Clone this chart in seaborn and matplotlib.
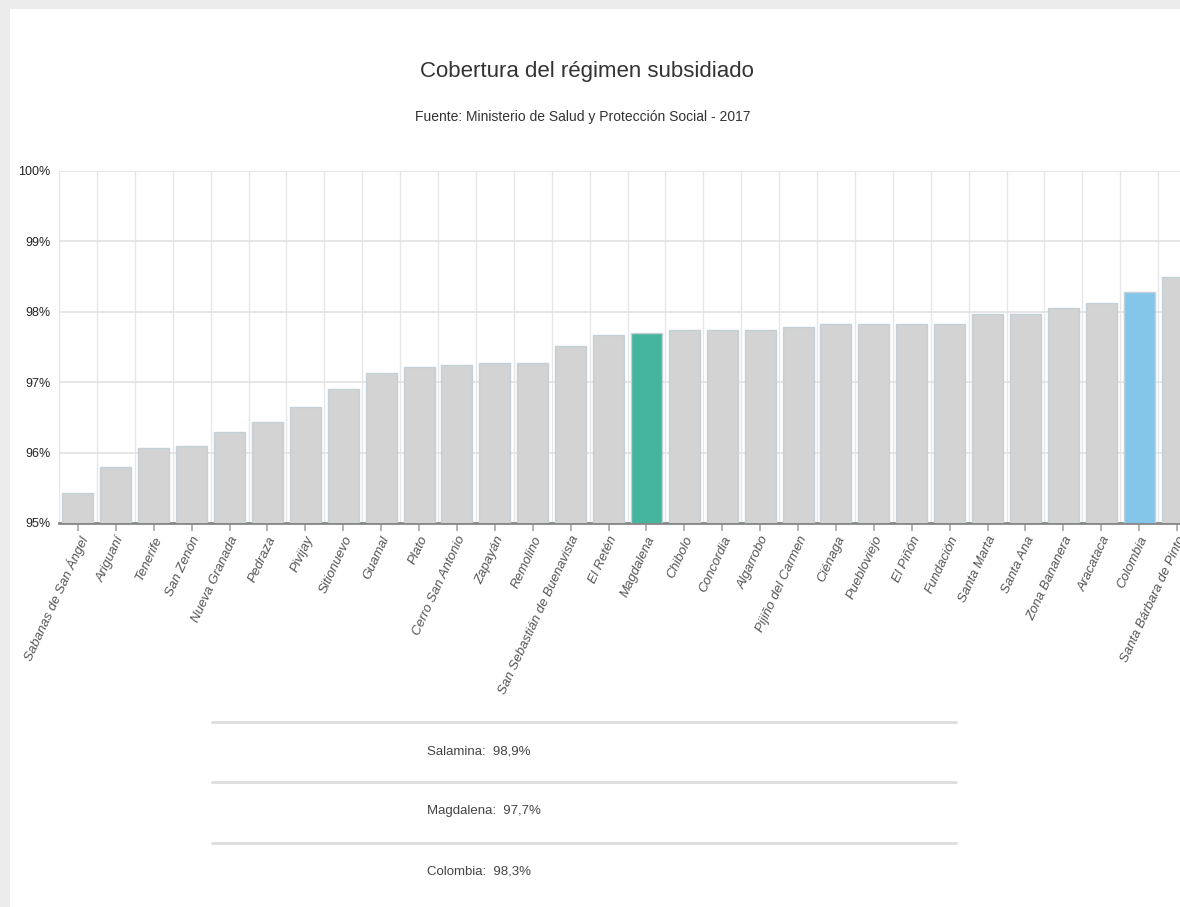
import pandas as pd
import matplotlib.pyplot as plt
import seaborn as sns
from matplotlib.patches import Rectangle
from matplotlib.lines import Line2D
from matplotlib.ticker import FixedLocator

# Data
municipios = ["Sabanas de San Ángel", "Ariguaní", "Tenerife", "San Zenón", "Nueva Granada",
              "Pedraza", "Pivijay", "Sitionuevo", "Guamal", "Plato", "Cerro San Antonio",
              "Zapayán", "Remolino", "San Sebastián de Buenavista", "El Retén", "Magdalena",
              "Chibolo", "Concordia", "Algarrobo", "Pijiño del Carmen", "Ciénaga", "Puebloviejo",
              "El Piñón", "Fundación", "Santa Marta", "Santa Ana", "Zona Bananera", "Aracataca",
              "Colombia", "Santa Bárbara de Pinto"]
cobertura = [95.43, 95.80, 96.07, 96.10, 96.29, 96.43, 96.65, 96.90, 97.13, 97.22, 97.24,
             97.27, 97.27, 97.51, 97.67, 97.70, 97.74, 97.74, 97.74, 97.78, 97.83, 97.83,
             97.83, 97.83, 97.97, 97.97, 98.05, 98.13, 98.28, 98.50]
y_ticks = [95, 96, 97, 98, 99, 100]
resumen = ["Salamina:  98,9%", "Magdalena:  97,7%", "Colombia:  98,3%"]

colores = {m: "#d3d3d3" for m in municipios}
colores["Magdalena"] = "#45b59e"
colores["Colombia"] = "#84c6ea"

df = pd.DataFrame({"municipio": municipios, "cobertura": cobertura})

sns.set_theme(style="white")
plt.rcParams['font.family'] = ['Liberation Sans', 'DejaVu Sans']

W, H = 1180, 907
fig = plt.figure(figsize=(W / 100, H / 100), dpi=100)
fig.patch.set_facecolor("#ececec")
fig.add_artist(Rectangle((10 / W, 0), 1, 1 - 9 / H, transform=fig.transFigure,
                         facecolor="white", edgecolor="none", zorder=0))

ax = fig.add_axes([59 / W, 1 - 523 / H, 1137 / W, 352 / H])
ax.set_facecolor("none")
sns.barplot(data=df, x="municipio", y="cobertura", hue="municipio", palette=colores,
            saturation=1, legend=False, width=0.82, edgecolor="#c3d0d8", linewidth=1,
            ax=ax, zorder=3)

ax.set_ylim(95, 100)
ax.set_xlim(-0.5, len(municipios) - 0.5)
ax.set_yticks(y_ticks)
ax.set_yticklabels([f"{v}%" for v in y_ticks], fontsize=9, color="#222222")
ax.xaxis.set_minor_locator(FixedLocator([i + 0.5 for i in range(-1, len(municipios))]))
ax.grid(axis="y", which="major", color="#e2e2e2", linewidth=1.2, zorder=0)
ax.grid(axis="x", which="minor", color="#e6e6e6", linewidth=1, zorder=0)
ax.set_xticks(range(len(municipios)))
ax.set_xticklabels(municipios, rotation=65, ha="right", rotation_mode="anchor",
                   fontsize=9.5, fontstyle="italic", color="#555555")
ax.tick_params(axis="x", which="major", bottom=True, length=6, color="#aaaaaa", pad=2)
ax.tick_params(axis="x", which="minor", bottom=False)
ax.tick_params(axis="y", length=0, pad=6)
ax.set_xlabel("")
ax.set_ylabel("")
for s in ["top", "right", "left"]:
    ax.spines[s].set_visible(False)
ax.spines["bottom"].set_color("#888888")
ax.spines["bottom"].set_linewidth(2)

fig.text(587 / W, 1 - 72 / H, "Cobertura del régimen subsidiado", ha="center", va="center",
         fontsize=16, color="#333333")
fig.text(583 / W, 1 - 117 / H, "Fuente: Ministerio de Salud y Protección Social - 2017",
         ha="center", va="center", fontsize=10, color="#333333")

# resumen table
for y in [722, 782, 843]:
    fig.add_artist(Line2D([212 / W, 956 / W], [1 - y / H, 1 - y / H], transform=fig.transFigure,
                          color="#dddddd", linewidth=2))
for txt, y in zip(resumen, [751, 811, 871]):
    fig.text(427 / W, 1 - y / H, txt, ha="left", va="center", fontsize=9.5, color="#444444")

plt.savefig("out.png", dpi=100)
